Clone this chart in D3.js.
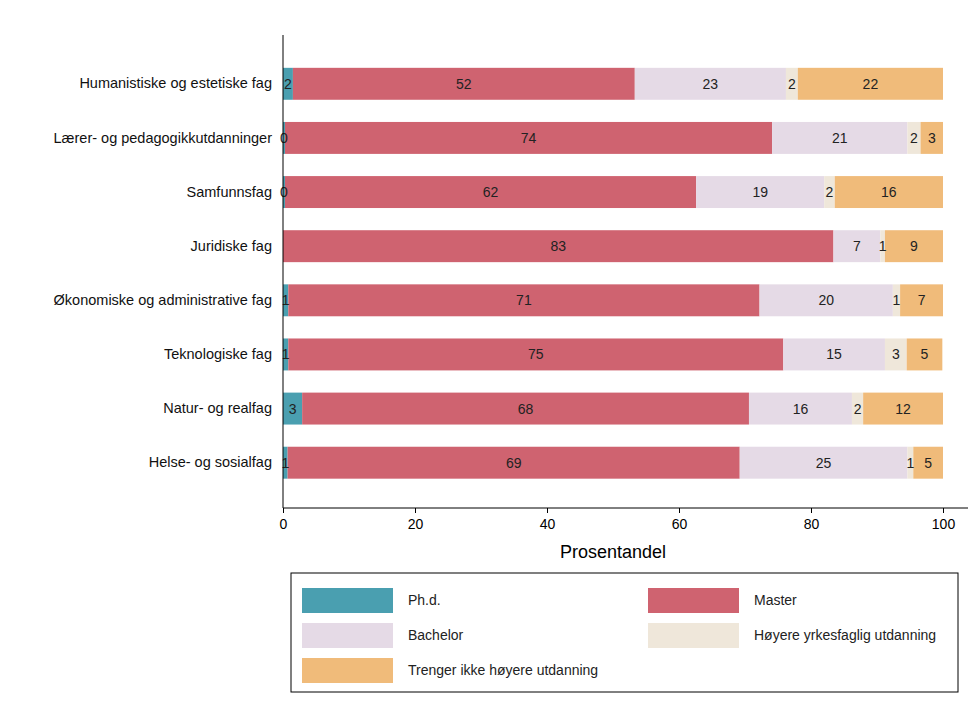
<!DOCTYPE html>
<html><head><meta charset="utf-8">
<script src="https://cdn.jsdelivr.net/npm/d3@7"></script>
<style>body{margin:0;background:#fff;font-family:"Liberation Sans",Arial,sans-serif;}</style>
</head><body><svg id="c" width="980" height="718"></svg>
<script>
const categories = ["Humanistiske og estetiske fag","Lærer- og pedagogikkutdanninger","Samfunnsfag","Juridiske fag","Økonomiske og administrative fag","Teknologiske fag","Natur- og realfag","Helse- og sosialfag"];
const seriesNames = ["Ph.d.","Master","Bachelor","Høyere yrkesfaglig utdanning","Trenger ikke høyere utdanning"];
const seriesColors = ["#4a9fb0","#cf6370","#e5dae6","#efe7da","#f0bb7a"];
const phd      = [1.5, 0.3, 0.3, 0,   0.8, 0.8, 2.9, 0.7];
const master   = [51.8,73.8,62.3,83.4,71.4,75.0,67.7,68.5];
const bachelor = [22.9,20.5,19.4,7.1, 20.2,15.4,15.6,25.4];
const hoyere   = [1.8, 2.0, 1.6, 0.7, 1.1, 3.3, 1.7, 0.9];
const trenger  = [22.0,3.4, 16.4,8.8, 6.5, 5.4, 12.1,4.5];
const xTicks = [0,20,40,60,80,100];

const svg = d3.select("#c");
const x = d3.scaleLinear().domain([0,100]).range([283,943]);
const y = d3.scaleBand().domain(categories).range([57,489.5]).paddingInner(0.41).paddingOuter(0.2);

const rows = categories.map((c,i)=>{ const v=[phd[i],master[i],bachelor[i],hoyere[i],trenger[i]]; let s=0;
  return v.map((d,k)=>{ const o={cat:c,k,v:d,x0:s}; s+=d; return o; }); }).flat();

svg.selectAll("rect.seg").data(rows.filter(d=>d.v>0)).enter().append("rect")
  .attr("x",d=>x(d.x0)).attr("width",d=>x(d.x0+d.v)-x(d.x0))
  .attr("y",d=>y(d.cat)).attr("height",y.bandwidth())
  .attr("fill",d=>seriesColors[d.k]);
svg.selectAll("text.lab").data(rows.filter(d=>d.v>0)).enter().append("text")
  .attr("x",d=>x(d.x0+d.v/2)).attr("y",d=>y(d.cat)+y.bandwidth()/2+5)
  .attr("text-anchor","middle").attr("font-size",14).attr("fill","#222")
  .text(d=>Math.round(d.v));

// axes
svg.append("line").attr("x1",283).attr("x2",283).attr("y1",35).attr("y2",508).attr("stroke","#000");
svg.append("line").attr("x1",283).attr("x2",968).attr("y1",508).attr("y2",508).attr("stroke","#000");
const xa = svg.append("g").attr("transform","translate(0,508)").call(d3.axisBottom(x).tickValues(xTicks).tickSize(5).tickSizeOuter(0));
xa.select(".domain").remove();
xa.selectAll("text").attr("font-size",14).attr("font-family","Liberation Sans,Arial").attr("dy","0.9em");
const ya = svg.append("g").attr("transform","translate(283,0)").call(d3.axisLeft(y).tickSize(0).tickPadding(11).tickSizeOuter(0));
ya.select(".domain").remove();
ya.selectAll("text").attr("font-size",14.5).attr("font-family","Liberation Sans,Arial").attr("fill","#111");
svg.append("text").attr("x",x(50)).attr("y",558).attr("text-anchor","middle").attr("font-size",18).text("Prosentandel");

// legend
svg.append("rect").attr("x",291).attr("y",573).attr("width",667).attr("height",119).attr("fill","none").attr("stroke","#000");
const lpos = [[302,588],[648,588],[302,623],[648,623],[302,658]];
const lg = svg.selectAll("g.lg").data(seriesNames).enter().append("g").attr("transform",(d,i)=>`translate(${lpos[i][0]},${lpos[i][1]})`);
lg.append("rect").attr("width",91).attr("height",25).attr("fill",(d,i)=>seriesColors[i]);
lg.append("text").attr("x",106).attr("y",17).attr("font-size",14).attr("fill","#222").text(d=>d);
</script></body></html>
